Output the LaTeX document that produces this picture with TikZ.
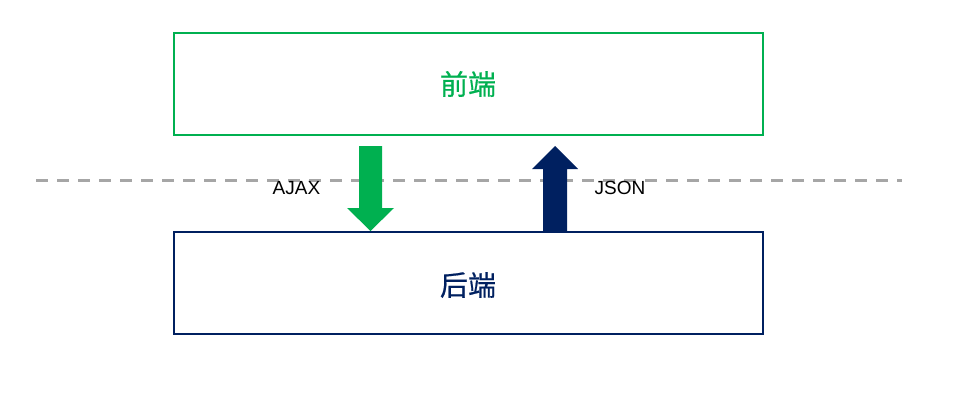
\documentclass[tikz,border=0pt]{standalone}
\usepackage{fontspec}
\setmainfont{Liberation Sans}
\newfontfamily\cjk[FakeBold=0.6]{Noto Sans CJK SC}
\definecolor{fgreen}{HTML}{00B050}
\definecolor{fnavy}{HTML}{002060}
\definecolor{dgray}{HTML}{A6A6A6}
\begin{document}
\begin{tikzpicture}[x=1pt,y=-1pt,
  boxstyle/.style={draw, line width=1.5pt, minimum width=589pt, minimum height=102pt, inner sep=0pt},
  cjklbl/.style={inner sep=0pt, font=\cjk\fontsize{28}{30}\selectfont},
  lbl/.style={font=\fontsize{19}{22}\selectfont, inner sep=0pt, text=black}]
\useasboundingbox (0,0) rectangle (972,404);
\node[boxstyle, draw=fgreen] (fe) at (468.5,84) {};
\node[boxstyle, draw=fnavy] (be) at (468.5,283) {};
\node[cjklbl, text=fgreen] (fet) at (468,84) {前端};
\node[cjklbl, text=fnavy] (bet) at (468,285) {后端};
\coordinate (dl) at (36,180);
\coordinate (dr) at (902,180);
\draw[dgray, line width=3pt, dash pattern=on 12pt off 9pt] (dl) -- (dr);
% green down arrow
\fill[fgreen] (359,146) -- (382,146) -- (382,208) -- (394,208) -- (370.5,231) -- (347,208) -- (359,208) -- cycle;
% navy up arrow
\fill[fnavy] (543,232) -- (567,232) -- (567,169) -- (578,169) -- (555,146) -- (532,169) -- (543,169) -- cycle;
\node[lbl] (ajax) at (296.5,188) {AJAX};
\node[lbl] (json) at (620,188) {JSON};
\end{tikzpicture}
\end{document}
